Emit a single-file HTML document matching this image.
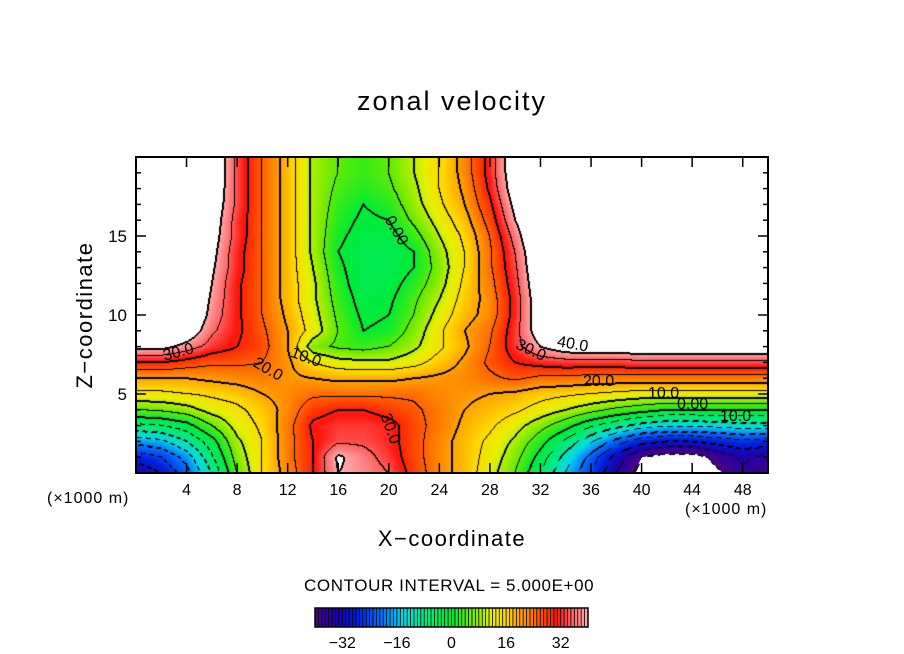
<!DOCTYPE html>
<html><head><meta charset="utf-8"><style>
body{margin:0;background:#fff;width:904px;height:654px;overflow:hidden;position:relative;font-family:"Liberation Sans",sans-serif;}
.t{position:absolute;white-space:nowrap;color:#000;}
</style></head><body>
<div class="t" style="left:0;width:904px;text-align:center;top:86px;font-size:27px;letter-spacing:2px">zonal velocity</div>
<canvas id="cv" width="632" height="316" style="position:absolute;left:136px;top:157px"></canvas>
<svg id="ax" width="904" height="654" style="position:absolute;left:0;top:0"></svg>
<div class="t" style="left:0;width:904px;text-align:center;top:526px;font-size:22px;letter-spacing:1.5px">X−coordinate</div>
<div class="t" style="left:85px;top:315px;font-size:22px;letter-spacing:1.5px;transform:translate(-50%,-50%) rotate(-90deg)">Z−coordinate</div>
<div class="t" style="left:47px;top:490px;font-size:16px;letter-spacing:1px">(×1000 m)</div>
<div class="t" style="left:685px;top:501px;font-size:16px;letter-spacing:1px">(×1000 m)</div>
<div class="t" style="left:304px;top:576px;font-size:17px;letter-spacing:0.6px">CONTOUR INTERVAL = 5.000E+00</div>
<div class="t" style="left:163px;top:344px;font-size:16px;transform:rotate(-15deg)">30.0</div>
<div class="t" style="left:252px;top:361px;font-size:16px;transform:rotate(30deg)">20.0</div>
<div class="t" style="left:290px;top:349px;font-size:16px;transform:rotate(20deg)">10.0</div>
<div class="t" style="left:380px;top:222px;font-size:16px;transform:rotate(60deg)">0.00</div>
<div class="t" style="left:374px;top:420px;font-size:16px;transform:rotate(70deg)">30.0</div>
<div class="t" style="left:515px;top:342px;font-size:16px;transform:rotate(25deg)">30.0</div>
<div class="t" style="left:557px;top:336px;font-size:16px;transform:rotate(10deg)">40.0</div>
<div class="t" style="left:583px;top:373px;font-size:16px">20.0</div>
<div class="t" style="left:648px;top:385px;font-size:16px">10.0</div>
<div class="t" style="left:677px;top:396px;font-size:16px">0.00</div>
<div class="t" style="left:720px;top:408px;font-size:16px">10.0</div>
<script>
const xs=[0,2,4,6,8,10,12,14,16,18,20,22,24,26,28,30,32,34,36,38,40,42,44,46,48,50];
const zs=[0,1,2,3,4,5,6,7,8,9,10,11,12,13,14,15,16,17,18,19,20];
const W=50;
const f=(a)=>{while(a.length<26)a.push(W);return a;};
const field=[
f([-34,-30,-22,-10,5,15,22,30,40,38,35,28,22,18,12,5,-5,-15,-25,-35,-42,-46,-46,-41,-36,-38]),
f([-28,-25,-18,-6,7,15,23,30,41,37,33,27,22,18,13,7,-2,-12,-22,-32,-40,-43,-43,-38,-34,-36]),
f([-18,-16,-10,-2,9,15,23,30,34,34,32,27,22,18,14,9,2,-6,-14,-22,-28,-30,-30,-28,-26,-27]),
f([-6,-5,-2,5,12,16,23,31,33,33,32,27,23,19,16,12,7,2,-4,-8,-12,-14,-14,-13,-12,-12]),
f([5,6,8,12,14,17,22,28,30,30,28,26,23,20,18,16,13,10,7,4,2,0,0,0,0,0]),
f([14,14,15,16,17,20,22,24,24,24,24,24,22,21,20,19,17,16,15,14,13,13,13,13,13,13]),
f([20,20,20,21,22,23,21,20,19,19,19,20,21,22,24,26,24,24,23,23,23,23,23,23,23,23]),
f([30,30,28,26,26,25,21,15,12,11,11,13,17,21,26,30,32,33,33,33,34,34,34,34,34,34]),
f([42,42,38,33,30,27,20,7,4,3,5,9,14,19,25,33,40,44,45,45,45,45,45,45,45,45]),
f([50,50,45,36,31,26,20,13,5,0,1,7,14,20,24,33,44]),
f([50,50,48,38,31,25,19,12,4,-1,0,5,12,18,22,32,45]),
f([50,50,49,39,31,25,18,11,3,-2,-1,4,10,17,22,32,45]),
f([50,50,50,40,31,25,18,11,2,-3,-2,2,8,16,23,33,46]),
f([50,50,50,41,32,25,18,10,1,-3,-3,0,7,15,24,34,47]),
f([50,50,50,42,32,25,18,9,0,-3,-3,0,8,15,24,35,48]),
f([50,50,50,43,33,25,18,9,1,-2,-2,3,10,16,25,37,50]),
f([50,50,50,44,33,25,18,9,2,-1,0,6,12,18,27,40,50]),
f([50,50,50,45,34,25,18,9,3,0,2,8,14,20,29,42,50]),
f([50,50,50,46,34,25,18,9,4,2,4,9,15,21,31,44,50]),
f([50,50,50,47,34,25,18,9,5,3,5,10,15,22,32,45,50]),
f([50,50,50,47,34,25,18,9,5,3,5,10,15,22,32,45,50])
];
const xTicks=[4,8,12,16,20,24,28,32,36,40,44,48];
const zTicks=[5,10,15];
const cbTicks=[-32,-16,0,16,32];
const stops=[[-40,80,0,130],[-34,30,0,170],[-28,0,30,220],[-20,0,120,255],[-14,0,220,230],[-7,0,235,120],[0,0,235,50],[6,110,235,0],[12,230,240,0],[16,255,215,0],[21,255,150,0],[26,255,85,0],[31,255,20,10],[36,255,110,110],[40,255,170,170]];
function col(v){
  for(let i=0;i<stops.length-1;i++){const a=stops[i],b=stops[i+1];
    if(v<=b[0]){const t=Math.max(0,(v-a[0])/(b[0]-a[0]));return [a[1]+t*(b[1]-a[1]),a[2]+t*(b[2]-a[2]),a[3]+t*(b[3]-a[3])];}}
  return [255,170,170];
}
const PL=136,PT=157,PW=632,PH=316,XMAX=50,ZMAX=20;
const sx=x=>PL+x/XMAX*PW, sz=z=>PT+PH-z/ZMAX*PH;
function val(px,py){
  const x=px/PW*XMAX, z=(PH-py)/PH*ZMAX;
  let i=Math.min(xs.length-2,Math.floor(x/2)), j=Math.min(zs.length-2,Math.floor(z));
  const tx=(x-xs[i])/(xs[i+1]-xs[i]), tz=(z-zs[j])/(zs[j+1]-zs[j]);
  return field[j][i]*(1-tx)*(1-tz)+field[j][i+1]*tx*(1-tz)+field[j+1][i]*(1-tx)*tz+field[j+1][i+1]*tx*tz;
}
const cv=document.getElementById('cv'),ctx=cv.getContext('2d');
const img=ctx.createImageData(PW,PH);
const V=new Float32Array(PW*PH);
for(let y=0;y<PH;y++)for(let x=0;x<PW;x++){const v=val(x+0.5,y+0.5);V[y*PW+x]=Math.max(-40.5,Math.min(40.5,v));}
const K=v=>Math.floor(v/5);
for(let y=0;y<PH;y++)for(let x=0;x<PW;x++){
  const v=V[y*PW+x];let c=(v>40||v<-40)?[255,255,255]:col(v);
  const k=K(v);
  let line=false,neg=false;
  for(const [dx,dy] of [[1,0],[0,1]]){const xx=x+dx,yy=y+dy;if(xx>=PW||yy>=PH)continue;
    const k2=K(V[yy*PW+xx]);
    if(k2!==k){const lv=Math.max(k,k2)*5;line=true;if(lv<0)neg=true;}}
  if(!line){for(const [dx,dy] of [[-1,0],[0,-1]]){const xx=x+dx,yy=y+dy;if(xx<0||yy<0)continue;
    const k2=K(V[yy*PW+xx]);const lv=Math.max(k,k2)*5;
    if(k2!==k&&lv%10===0){line=true;if(lv<0)neg=true;}}}
  if(line){ if(!neg||((x+y)%10)<6)c=[0,0,0]; }
  const o=(y*PW+x)*4;img.data[o]=c[0];img.data[o+1]=c[1];img.data[o+2]=c[2];img.data[o+3]=255;
}
ctx.putImageData(img,0,0);
const ax=document.getElementById('ax');const NS='http://www.w3.org/2000/svg';
function mk(t,a){const e=document.createElementNS(NS,t);for(const k in a)e.setAttribute(k,a[k]);ax.appendChild(e);return e;}
const fr=mk('rect',{x:PL,y:PT,width:PW,height:PH,fill:'none',stroke:'#000','stroke-width':2});


for(let x=1;x<50;x++){if(x%4!==0)continue;const L=10;
  mk('line',{x1:sx(x),x2:sx(x),y1:PT,y2:PT+L,stroke:'#000','stroke-width':1.5});
  mk('line',{x1:sx(x),x2:sx(x),y1:PT+PH,y2:PT+PH-L,stroke:'#000','stroke-width':1.5});}
for(let z=1;z<20;z++){const L=(z%5===0)?10:5;
  mk('line',{x1:PL,x2:PL+L,y1:sz(z),y2:sz(z),stroke:'#000','stroke-width':1.5});
  mk('line',{x1:PL+PW,x2:PL+PW-L,y1:sz(z),y2:sz(z),stroke:'#000','stroke-width':1.5});}
xTicks.forEach(t=>{const e=mk('text',{x:sx(t),y:495,'text-anchor':'middle','font-size':16,'font-family':'Liberation Sans, sans-serif'});e.textContent=t;
  
  });
zTicks.forEach(t=>{const e=mk('text',{x:127,y:sz(t)+6,'text-anchor':'end','font-size':17,'font-family':'Liberation Sans, sans-serif'});e.textContent=t;
  
  });
const CL=315,CR=588,CT=608,CB=627,CMIN=-40,CMAX=40;
const cx=v=>CL+(v-CMIN)/(CMAX-CMIN)*(CR-CL);
for(let v=CMIN;v<CMAX;v+=1){
  const c=col(v+0.5);const r=mk('rect',{x:cx(v),y:CT,width:(CR-CL)/80,height:CB-CT,fill:`rgb(${c[0]|0},${c[1]|0},${c[2]|0})`});
  
  
  mk('line',{x1:cx(v),x2:cx(v),y1:CT,y2:CB,stroke:'#000','stroke-width':0.8});
}
const cbf=mk('rect',{x:CL,y:CT,width:CR-CL,height:CB-CT,fill:'none',stroke:'#000','stroke-width':1.5});


cbTicks.forEach(t=>{const e=mk('text',{x:cx(t),y:648,'text-anchor':'middle','font-size':16,'font-family':'Liberation Sans, sans-serif'});e.textContent=(t<0?'−'+(-t):t);
  
  });
</script>
</body></html>
